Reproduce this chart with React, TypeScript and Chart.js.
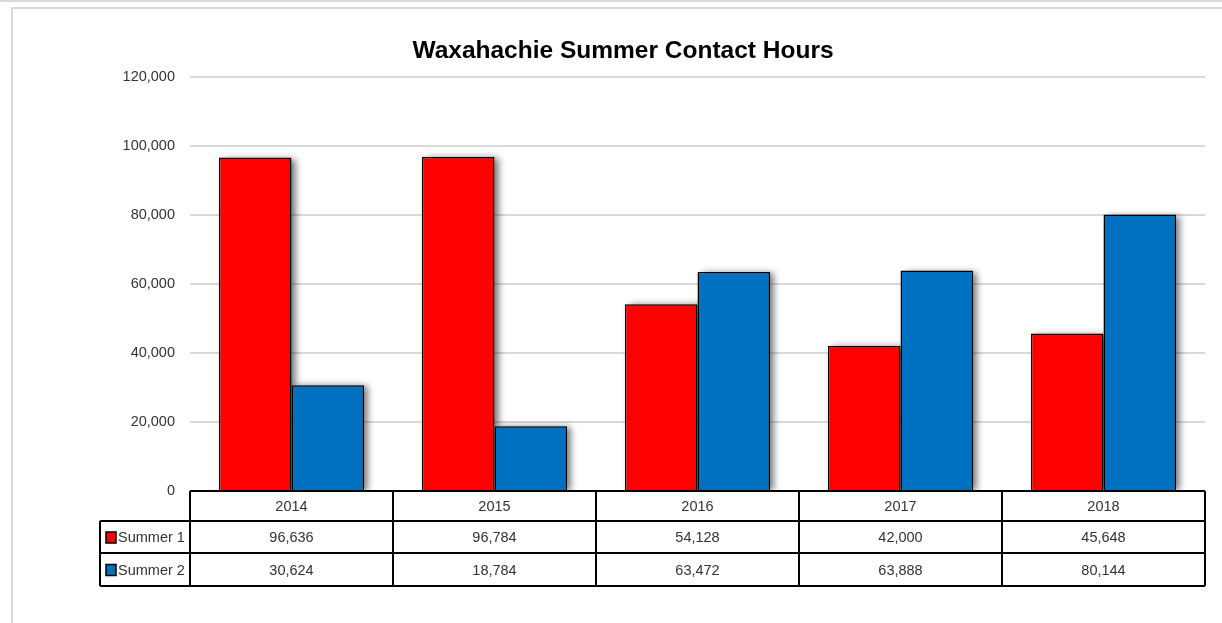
import React, { useEffect, useRef } from "react";
import { Chart, registerables } from "chart.js";

Chart.register(...registerables);

const chartTitle = "Waxahachie Summer Contact Hours";
const categories = ["2014", "2015", "2016", "2017", "2018"];
const seriesNames = ["Summer 1", "Summer 2"];
const summer1 = [96636, 96784, 54128, 42000, 45648];
const summer2 = [30624, 18784, 63472, 63888, 80144];
const seriesColors = ["#FF0000", "#0070C0"];
const yMin = 0;
const yMax = 120000;
const yStep = 20000;

const FONT = "'Liberation Sans', Arial, sans-serif";
const TEXT = "#333333";

const fmt = (v: number) => v.toLocaleString("en-US");

const framePlugin = {
  id: "frame",
  beforeDraw(chart: any) {
    const ctx = chart.ctx;
    ctx.save();
    ctx.fillStyle = "#ffffff";
    ctx.fillRect(0, 0, chart.width, chart.height);
    ctx.strokeStyle = "#d9d9d9";
    ctx.lineWidth = 2;
    ctx.beginPath();
    ctx.moveTo(0, 1);
    ctx.lineTo(chart.width, 1);
    ctx.moveTo(12, chart.height);
    ctx.lineTo(12, 8);
    ctx.lineTo(chart.width, 8);
    ctx.stroke();
    ctx.fillStyle = "#000000";
    ctx.font = `bold 24.5px ${FONT}`;
    ctx.textAlign = "center";
    ctx.textBaseline = "alphabetic";
    ctx.fillText(chartTitle, 623, 58);
    ctx.restore();
  },
};

// Draws only the soft drop shadow of every bar (the bars themselves are drawn afterwards by Chart.js)
const shadowPlugin = {
  id: "barShadow",
  beforeDatasetsDraw(chart: any) {
    const ctx = chart.ctx;
    const area = chart.chartArea;
    const OFF = 10000;
    ctx.save();
    ctx.beginPath();
    ctx.rect(area.left, area.top - 10, area.right - area.left + 20, area.bottom - area.top + 10);
    ctx.clip();
    ctx.shadowColor = "rgba(0,0,0,0.55)";
    ctx.shadowBlur = 7;
    ctx.shadowOffsetX = OFF + 4;
    ctx.shadowOffsetY = 1;
    ctx.fillStyle = "#000";
    chart.data.datasets.forEach((_: any, di: number) => {
      const meta = chart.getDatasetMeta(di);
      meta.data.forEach((el: any) => {
        const p = el.getProps(["x", "y", "base", "width"], true);
        const left = p.x - p.width / 2;
        ctx.fillRect(left - OFF, p.y, p.width, p.base - p.y);
      });
    });
    ctx.restore();
  },
};

const tablePlugin = {
  id: "dataTable",
  afterDraw(chart: any) {
    const ctx = chart.ctx;
    const { left, right, bottom } = chart.chartArea;
    const n = categories.length;
    const colW = (right - left) / n;
    const rowH = [30, 32, 33];
    const legendLeft = 100;
    const y0 = bottom;
    const y1 = y0 + rowH[0];
    const y2 = y1 + rowH[1];
    const y3 = y2 + rowH[2];
    const rows = [summer1, summer2];

    ctx.save();
    ctx.fillStyle = "#ffffff";
    ctx.fillRect(left, y0, right - left, y3 - y0);
    ctx.strokeStyle = "#000000";
    ctx.lineWidth = 2;
    ctx.beginPath();
    ctx.moveTo(left, y0);
    ctx.lineTo(right, y0);
    [y1, y2, y3].forEach((y) => {
      ctx.moveTo(legendLeft, y);
      ctx.lineTo(right, y);
    });
    for (let i = 0; i <= n; i++) {
      const x = left + i * colW;
      ctx.moveTo(x, y0);
      ctx.lineTo(x, y3);
    }
    ctx.moveTo(legendLeft, y1);
    ctx.lineTo(legendLeft, y3);
    ctx.stroke();

    ctx.fillStyle = TEXT;
    ctx.font = `14.5px ${FONT}`;
    ctx.textAlign = "center";
    ctx.textBaseline = "middle";
    categories.forEach((c, i) => {
      const cx = left + (i + 0.5) * colW;
      ctx.fillText(c, cx, (y0 + y1) / 2 + 1);
    });
    const rowTops = [y1, y2];
    const rowBots = [y2, y3];
    rows.forEach((vals, r) => {
      const cy = (rowTops[r] + rowBots[r]) / 2 + 1;
      vals.forEach((v, i) => {
        const cx = left + (i + 0.5) * colW;
        ctx.fillStyle = TEXT;
        ctx.fillText(fmt(v), cx, cy);
      });
      ctx.fillStyle = seriesColors[r];
      ctx.fillRect(legendLeft + 6, cy - 6, 10, 11);
      ctx.lineWidth = 1.5;
      ctx.strokeRect(legendLeft + 6, cy - 6, 10, 11);
      ctx.fillStyle = TEXT;
      ctx.textAlign = "left";
      ctx.fillText(seriesNames[r], legendLeft + 18, cy);
      ctx.textAlign = "center";
    });
    ctx.restore();
  },
};

export default function App() {
  const ref = useRef<HTMLCanvasElement | null>(null);

  useEffect(() => {
    document.body.style.margin = "0";
    const canvas = ref.current;
    if (!canvas) return;
    const chart = new Chart(canvas, {
      type: "bar",
      data: {
        labels: categories,
        datasets: [
          {
            label: seriesNames[0],
            data: summer1,
            backgroundColor: seriesColors[0],
            borderColor: "#000000",
            borderWidth: 1.5,
            barPercentage: 1,
            categoryPercentage: 0.715,
          },
          {
            label: seriesNames[1],
            data: summer2,
            backgroundColor: seriesColors[1],
            borderColor: "#000000",
            borderWidth: 1.5,
            barPercentage: 1,
            categoryPercentage: 0.715,
          },
        ],
      },
      options: {
        responsive: false,
        animation: false,
        layout: { padding: { left: 0, right: 17, top: 77, bottom: 132 } },
        plugins: {
          legend: { display: false },
          tooltip: { enabled: false },
          title: { display: false },
        },
        scales: {
          x: { display: false },
          y: {
            min: yMin,
            max: yMax,
            ticks: {
              stepSize: yStep,
              padding: 15,
              color: TEXT,
              font: { family: FONT, size: 14.5 },
              callback: (v: any) => fmt(Number(v)),
            },
            grid: { color: "#d9d9d9", lineWidth: 2, drawTicks: false },
            border: { display: false },
            afterFit: (scale: any) => {
              scale.width = 190;
            },
          },
        },
      },
      plugins: [framePlugin, shadowPlugin, tablePlugin],
    });
    return () => chart.destroy();
  }, []);

  return (
    <canvas
      ref={ref}
      width={1222}
      height={623}
      style={{ display: "block", width: 1222, height: 623 }}
    />
  );
}
